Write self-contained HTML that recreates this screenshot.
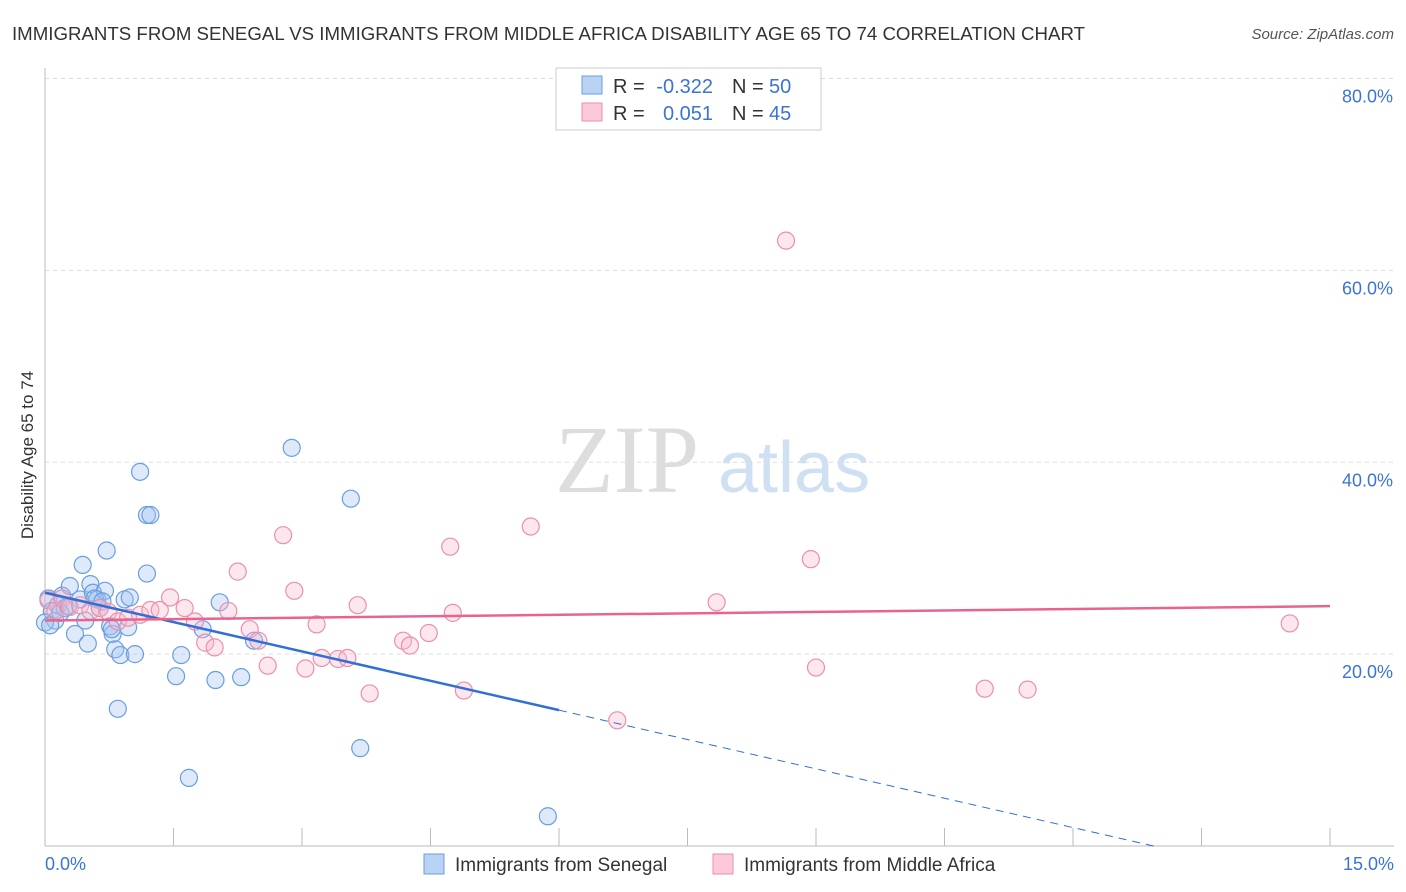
<!DOCTYPE html>
<html><head><meta charset="utf-8"><style>
body{margin:0;background:#fff;font-family:"Liberation Sans",sans-serif}
#wrap{position:relative;width:1406px;height:892px;overflow:hidden}
</style></head><body><div id="wrap">
<svg id="svg" width="1406" height="892" xmlns="http://www.w3.org/2000/svg">
<text x="12" y="40" font-size="18" fill="#333" textLength="1073" lengthAdjust="spacingAndGlyphs">IMMIGRANTS FROM SENEGAL VS IMMIGRANTS FROM MIDDLE AFRICA DISABILITY AGE 65 TO 74 CORRELATION CHART</text>
<text x="1394" y="39" font-size="15" fill="#555" font-style="italic" text-anchor="end">Source: ZipAtlas.com</text>
<text transform="translate(33,455) rotate(-90)" font-size="17" fill="#333" text-anchor="middle">Disability Age 65 to 74</text>
<text x="555" y="492" font-size="96" fill="#ddd" font-family="Liberation Serif">ZIP</text>
<text x="718" y="492" font-size="72" fill="#cfe0f3">atlas</text>
<g id="grid"></g><g id="pts"></g><g id="lines"></g>
<g>
<rect x="556" y="68" width="265" height="62" fill="#fff" stroke="#ccc"/>
<rect x="582" y="76" width="20" height="18" fill="#b9d3f5" stroke="#6a9ee0"/>
<rect x="582" y="103" width="20" height="18" fill="#fbc9d8" stroke="#ec8fab"/>
<text x="613" y="93" font-size="20" fill="#333">R =</text>
<text x="713" y="93" font-size="20" fill="#3b73d6" text-anchor="end">-0.322</text>
<text x="732" y="93" font-size="20" fill="#333">N =</text>
<text x="769" y="93" font-size="20" fill="#3b73d6">50</text>
<text x="613" y="120" font-size="20" fill="#333">R =</text>
<text x="713" y="120" font-size="20" fill="#3b73d6" text-anchor="end">0.051</text>
<text x="732" y="120" font-size="20" fill="#333">N =</text>
<text x="769" y="120" font-size="20" fill="#3b73d6">45</text>
</g>
<g>
<rect x="424" y="854" width="20" height="20" fill="#b9d3f5" stroke="#6a9ee0"/>
<text x="455" y="871" font-size="19" fill="#333">Immigrants from Senegal</text>
<rect x="713" y="854" width="20" height="20" fill="#fbc9d8" stroke="#ec8fab"/>
<text x="744" y="871" font-size="19" fill="#333">Immigrants from Middle Africa</text>
</g>
<text x="45" y="870" font-size="18" fill="#3b73d6">0.0%</text>
<text x="1394" y="870" font-size="18" fill="#3b73d6" text-anchor="end">15.0%</text>
</svg></div>
<script>
const yTicks=[20,40,60,80];
const senegalX=[0.04,0.08,0.12,0.15,0.2,0.23,0.29,0.35,0.41,0.44,0.5,0.53,0.56,0.61,0.64,0.7,0.72,0.76,0.79,0.82,0.85,0.88,0.93,0.97,0.99,1.05,1.11,1.19,1.23,1.19,1.53,1.59,1.68,1.84,1.99,2.04,2.29,2.44,2.88,3.57,3.68,5.87,0.18,0.0,0.06,0.27,0.58,0.47,0.67,0.78];
const senegalY=[25.8,24.5,23.5,25.1,26.1,24.8,27.1,22.1,25.7,29.3,21.1,27.3,26.4,25.7,24.8,26.6,30.8,22.9,22.1,20.5,14.3,19.9,25.7,22.8,25.9,20.0,39.0,34.5,34.5,28.4,17.7,19.9,7.1,22.6,17.3,25.4,17.6,21.4,41.5,36.2,10.2,3.1,24.3,23.3,23.0,25.0,25.8,23.5,25.5,22.6];
const africaX=[0.04,0.12,0.2,0.29,0.41,0.53,0.64,0.74,0.85,0.97,1.11,1.23,1.34,1.46,1.63,1.75,1.87,1.98,2.14,2.25,2.39,2.49,2.6,2.78,2.91,3.04,3.17,3.23,3.42,3.53,3.65,3.79,4.18,4.26,4.48,4.73,4.76,4.89,5.67,6.68,7.84,8.65,8.94,9.0,10.97,11.47,14.53];
const africaY=[25.6,24.5,25.8,24.9,25.1,24.5,24.8,24.4,23.4,23.8,24.1,24.6,24.6,25.9,24.8,23.4,21.2,20.7,24.5,28.6,22.6,21.4,18.8,32.4,26.6,18.5,23.1,19.6,19.5,19.6,25.1,15.9,21.4,20.9,22.2,31.2,24.3,16.2,33.3,13.1,25.4,63.1,29.9,18.6,16.4,16.3,23.2];
const X=v=>45+v*(1285/15), Y=v=>846-v*(767.5/80);
const ns='http://www.w3.org/2000/svg';
function mk(t,a,p){const e=document.createElementNS(ns,t);for(const k in a)e.setAttribute(k,a[k]);p.appendChild(e);return e;}
const g=document.getElementById('grid');
mk('line',{x1:45,x2:45,y1:68,y2:846,stroke:'#bbb'},g);
mk('line',{x1:45,x2:1394,y1:846,y2:846,stroke:'#bbb'},g);
for(let i=1;i<=10;i++){mk('line',{x1:X(i*1.5),x2:X(i*1.5),y1:828,y2:846,stroke:'#bbb'},g);}
for(const t of yTicks){const l=mk('line',{x1:45,x2:1394,y1:Y(t),y2:Y(t),stroke:'#ddd','stroke-dasharray':'4,4'},g);


const tx=mk('text',{x:1393,y:Y(t)+24,'font-size':18,fill:'#3b73d6','text-anchor':'end'},g);tx.textContent=t.toFixed(1)+'%';

}
const p=document.getElementById('pts');
senegalX.forEach((v,i)=>{const c=mk('circle',{cx:X(v),cy:Y(senegalY[i]),r:8.5,fill:'rgba(160,195,240,0.35)',stroke:'#6a9ee0','stroke-width':1.2},p);

});
africaX.forEach((v,i)=>{const c=mk('circle',{cx:X(v),cy:Y(africaY[i]),r:8.5,fill:'rgba(248,185,205,0.35)',stroke:'#ec8fab','stroke-width':1.2},p);

});
const L=document.getElementById('lines');
const b0=26.4,b1=-2.04,xEnd=b0/-b1;
let e=mk('line',{x1:X(0),y1:Y(b0),x2:X(6),y2:Y(b0+6*b1),stroke:'#2f6fd6','stroke-width':2.5},L);


e=mk('line',{x1:X(6),y1:Y(b0+6*b1),x2:X(xEnd),y2:Y(0),stroke:'#2f6fd6','stroke-width':1,'stroke-dasharray':'8,6'},L);


e=mk('line',{x1:X(0),y1:Y(23.5),x2:X(15),y2:Y(25.0),stroke:'#e8648f','stroke-width':2.5},L);


</script></body></html>
